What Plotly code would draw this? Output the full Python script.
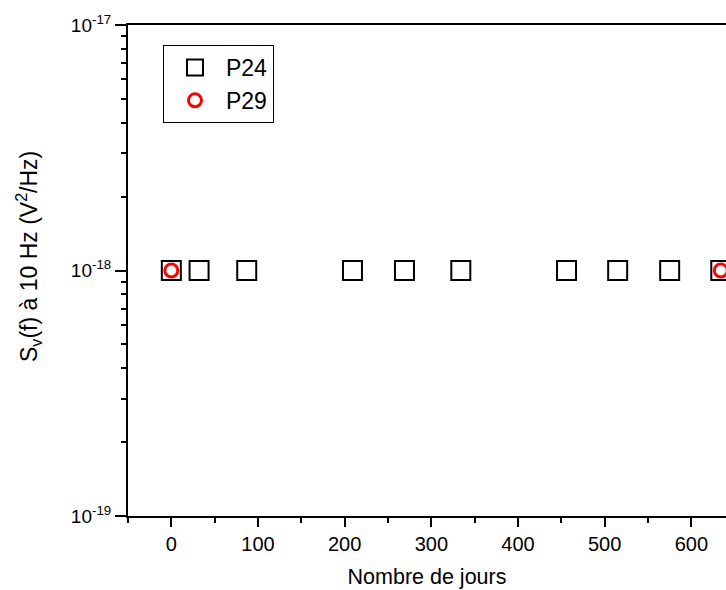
import plotly.graph_objects as go

# Data
p24_days = [0, 32, 87, 209, 269, 334, 456, 515, 575, 634]
p24_sv = [1e-18] * len(p24_days)
p29_days = [0, 634]
p29_sv = [1e-18, 1e-18]

y_tickvals = [1e-19, 1e-18, 1e-17]
y_ticktext = ["10<sup>-19</sup>", "10<sup>-18</sup>", "10<sup>-17</sup>"]
y_minor = [m * 10.0 ** e for e in (-19, -18) for m in range(2, 10)]
x_tickvals = [0, 100, 200, 300, 400, 500, 600]

FONT = "Liberation Sans, Arial, sans-serif"

fig = go.Figure()
fig.add_trace(go.Scatter(
    x=p24_days, y=p24_sv, mode="markers", name="P24",
    marker=dict(symbol="square-open", size=19, color="black",
                line=dict(width=2, color="black")),
))
fig.add_trace(go.Scatter(
    x=p29_days, y=p29_sv, mode="markers", name="P29",
    marker=dict(symbol="circle-open", size=13, color="red",
                line=dict(width=3, color="red")),
))

fig.update_layout(
    width=726, height=590,
    margin=dict(l=128, r=0, t=25, b=74),
    paper_bgcolor="white", plot_bgcolor="white",
    font=dict(family=FONT, size=20, color="black"),
    showlegend=True,
    legend=dict(
        x=0.0585, y=0.9593, xanchor="left", yanchor="top",
        bordercolor="black", borderwidth=1, bgcolor="white",
        font=dict(family=FONT, size=23, color="black"),
        itemwidth=52, tracegroupgap=0,
    ),
    xaxis=dict(
        range=[-50, 640], tickmode="array", tickvals=x_tickvals,
        ticks="outside", ticklen=9, tickwidth=2, tickcolor="black",
        showline=True, linewidth=2, linecolor="black", mirror=True,
        showgrid=False, zeroline=False,
        tickfont=dict(family=FONT, size=20),
        minor=dict(dtick=50, tick0=0, ticks="outside", ticklen=5,
                   tickwidth=2, tickcolor="black", showgrid=False),
        title=dict(text="Nombre de jours", font=dict(family=FONT, size=21.5),
                   standoff=15),
    ),
    yaxis=dict(
        type="log", range=[-19, -17], tickmode="array",
        tickvals=y_tickvals, ticktext=y_ticktext,
        ticks="outside", ticklen=11, tickwidth=2, tickcolor="black",
        showline=True, linewidth=2, linecolor="black", mirror=False,
        showgrid=False, zeroline=False,
        tickfont=dict(family=FONT, size=19),
        minor=dict(tickvals=y_minor, ticks="outside", ticklen=5,
                   tickwidth=2, tickcolor="black", showgrid=False),
    ),
    annotations=[dict(
        text="S<sub>v</sub>(f) à 10 Hz (V<sup>2</sup>/Hz)",
        xref="paper", yref="paper", x=-0.1672, y=0.5275,
        xanchor="center", yanchor="middle", textangle=-90,
        showarrow=False, font=dict(family=FONT, size=23, color="black"),
    )],
)

fig.write_html(
    "out.html",
    config={"displayModeBar": False},
    post_script="document.body.style.margin='0';"
                "document.body.style.overflow='hidden';",
)
